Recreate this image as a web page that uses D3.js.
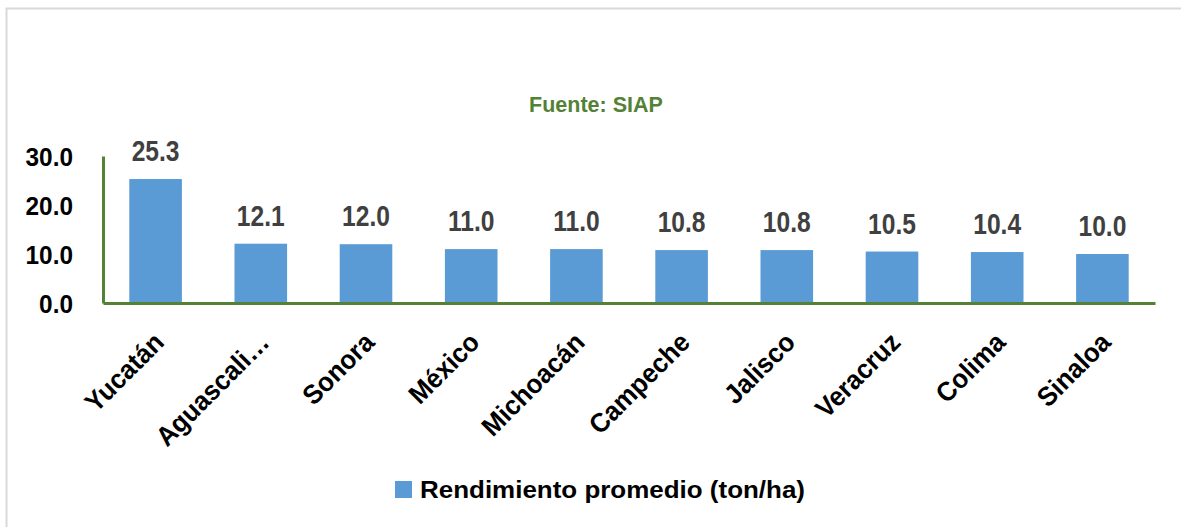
<!DOCTYPE html>
<html>
<head>
<meta charset="utf-8">
<script src="https://cdn.jsdelivr.net/npm/d3@7"></script>
<style>
  body { margin: 0; background: #fff; }
  text { font-family: "Liberation Sans", Arial, sans-serif; font-weight: bold; }
</style>
</head>
<body>
<div id="chart"></div>
<script>
const estados = ["Yucatán", "Aguascali…", "Sonora", "México", "Michoacán", "Campeche", "Jalisco", "Veracruz", "Colima", "Sinaloa"];
const rendimiento = [25.3, 12.1, 12.0, 11.0, 11.0, 10.8, 10.8, 10.5, 10.4, 10.0];
const yTicks = [0, 10, 20, 30];
const fuente = "Fuente: SIAP";
const serieNombre = "Rendimiento promedio (ton/ha)";

const width = 1181, height = 527;
const svg = d3.select("#chart")
  .append("svg")
  .attr("width", width)
  .attr("height", height);

// frame of the chart area
svg.append("path")
  .attr("d", "M6.5,527 V8.5 H1181")
  .attr("fill", "none")
  .attr("stroke", "#d9d9d9")
  .attr("stroke-width", 2);

const x = d3.scaleBand()
  .domain(estados)
  .range([103, 1155])
  .paddingInner(0.5)
  .paddingOuter(0.25);

const y = d3.scaleLinear()
  .domain([0, 30])
  .range([303, 156]);

svg.append("text")
  .attr("x", 596)
  .attr("y", 112)
  .attr("text-anchor", "middle")
  .attr("fill", "#538135")
  .style("font-size", "21.5px")
  .text(fuente);

svg.append("g")
  .selectAll("rect")
  .data(rendimiento)
  .enter()
  .append("rect")
  .attr("x", (d, i) => x(estados[i]))
  .attr("y", d => y(d))
  .attr("width", x.bandwidth())
  .attr("height", d => y(0) - y(d))
  .attr("fill", "#5b9bd5");

// value labels, slightly condensed like the original
svg.append("g")
  .selectAll("text")
  .data(rendimiento)
  .enter()
  .append("text")
  .attr("transform", (d, i) => `translate(${x(estados[i]) + x.bandwidth() / 2},${y(d) - 18}) scale(0.82,1)`)
  .attr("text-anchor", "middle")
  .attr("fill", "#404040")
  .style("font-size", "30px")
  .text(d => d.toFixed(1));

// y axis
const sy = 0.92;
const yAxis = svg.append("g")
  .attr("transform", "translate(103,0)")
  .call(d3.axisLeft(y).tickValues(yTicks).tickSize(0).tickFormat(d3.format(".1f")));
yAxis.select(".domain").attr("stroke", "#548235").attr("stroke-width", 3);
yAxis.selectAll("text")
  .attr("fill", "#000")
  .attr("x", -30 / sy)
  .attr("dy", "0.36em")
  .attr("transform", `scale(${sy},1)`)
  .style("font-size", "26.5px");

// x axis
const xAxis = svg.append("g")
  .attr("transform", "translate(0,303)")
  .call(d3.axisBottom(x).tickSize(0).tickPadding(0));
xAxis.select(".domain").attr("stroke", "#548235").attr("stroke-width", 3);
xAxis.selectAll("text")
  .attr("fill", "#000")
  .style("font-size", "27px")
  .attr("text-anchor", "end")
  .attr("y", 0)
  .attr("dy", null)
  .attr("transform", "translate(10,41) rotate(-45) scale(0.95,1)");

// legend
const legend = svg.append("g").attr("transform", "translate(395,481)");
legend.append("rect")
  .attr("width", 17)
  .attr("height", 17)
  .attr("fill", "#5b9bd5");
legend.append("text")
  .attr("x", 25)
  .attr("y", 17)
  .attr("fill", "#000")
  .attr("textLength", 385)
  .attr("lengthAdjust", "spacingAndGlyphs")
  .style("font-size", "24px")
  .text(serieNombre);
</script>
</body>
</html>
